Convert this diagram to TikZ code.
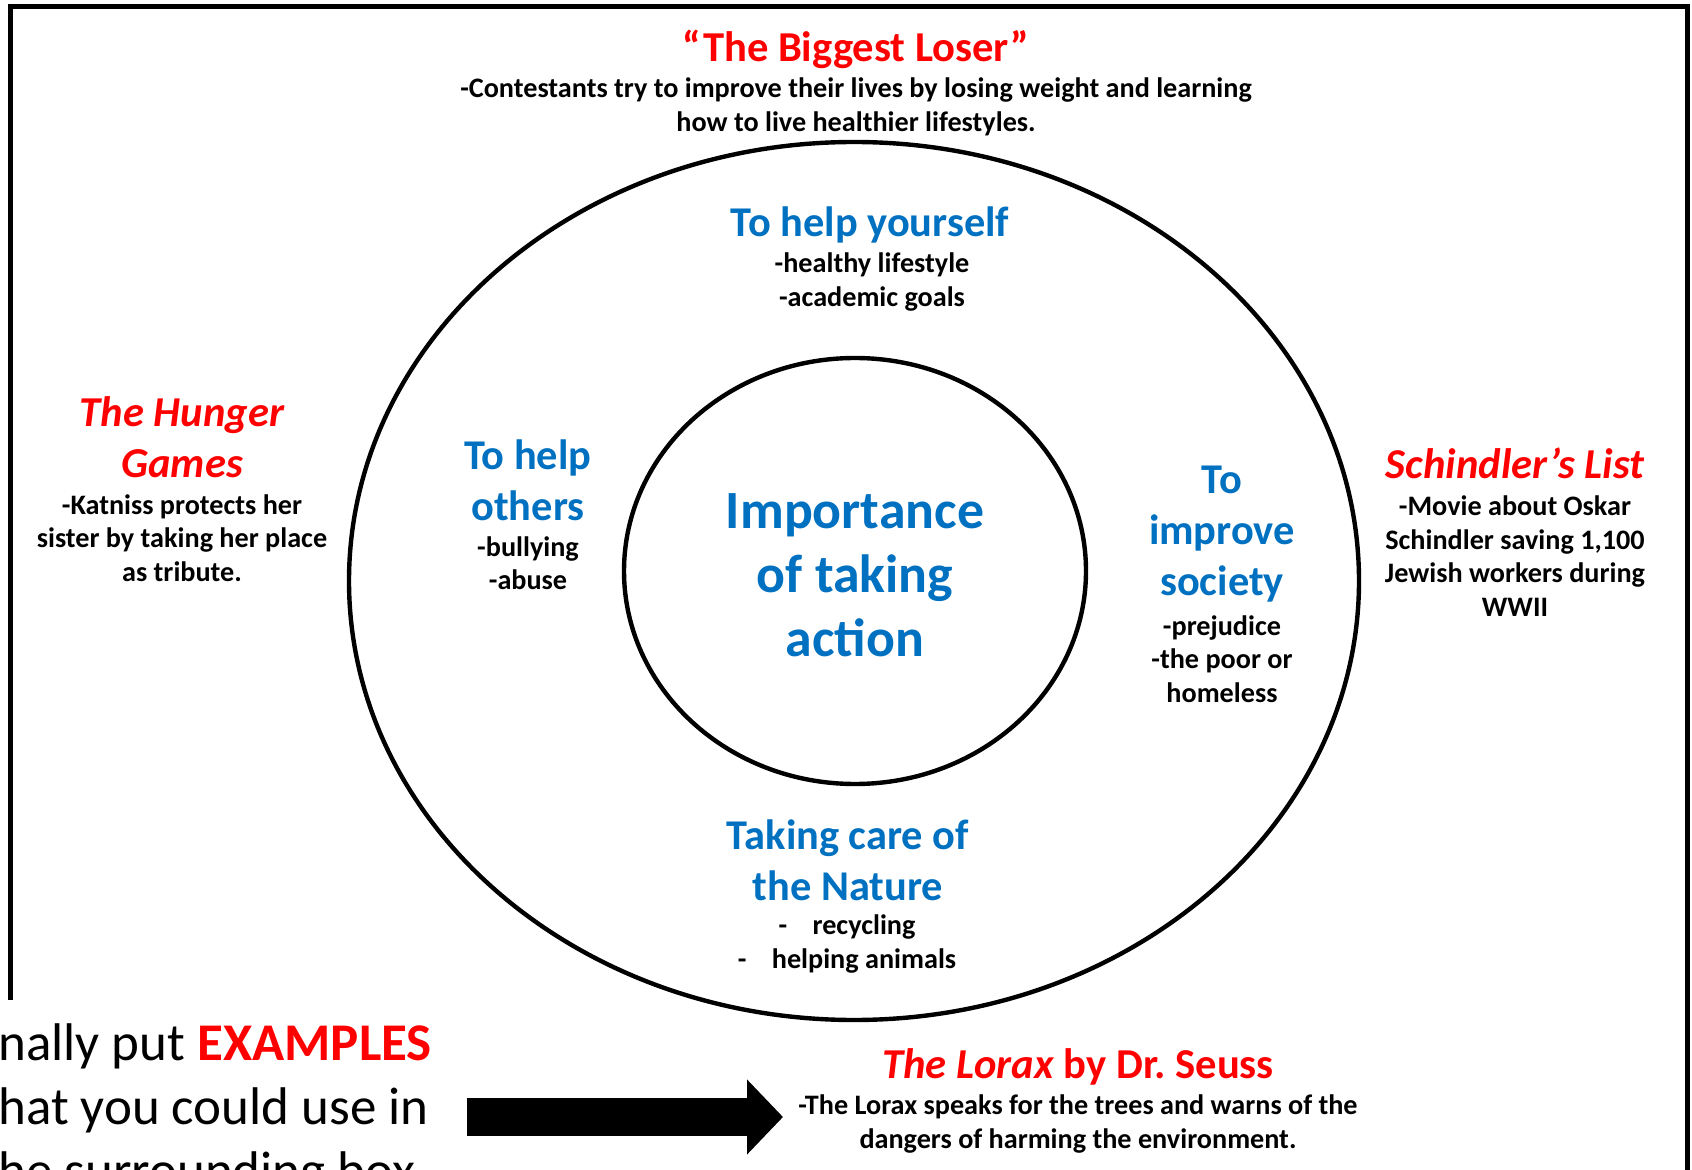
\documentclass[tikz,border=0pt]{standalone}
\usepackage{fontspec}
\setmainfont{Carlito}
\usepackage{tikz}
\usetikzlibrary{arrows.meta}
\definecolor{actblue}{RGB}{0,112,192}
\definecolor{exred}{RGB}{255,0,0}
\newcommand{\ring}[5]{\coordinate (#5) at (#1,#2); \draw[ringline] (#5) ellipse [x radius=#3, y radius=#4];}
\tikzset{
  ringline/.style={line width=2.2pt},
  framing/.style={line width=2.5pt},
  heading/.style={font=\fontsize{21.2}{25.4}\selectfont\bfseries, text=actblue, align=center, inner sep=0pt},
  movie/.style={font=\fontsize{21.3}{25.4}\selectfont\bfseries, text=exred, align=center, inner sep=0pt},
  detail/.style={font=\fontsize{14.1}{16.75}\selectfont\bfseries, align=center, inner sep=0pt},
  hubtext/.style={font=\fontsize{26.9}{31.9}\selectfont\bfseries, text=actblue, align=center, inner sep=0pt},
  fatarrow/.style={line width=19pt, -{Triangle[length=18pt, width=36.5pt]}}
}

\begin{document}
\begin{tikzpicture}[x=0.5pt, y=-0.5pt]
        \useasboundingbox (0,0) rectangle (1692,1170);
        \clip (0,0) rectangle (1692,1170);

        % frame
        \draw[framing] (10,1000) -- (10,7) -- (1687,7) -- (1687,1180);

        % rings
        \ring{854}{581}{505}{439}{outer}
        \ring{855}{571}{231}{213}{inner}

        \node[hubtext] (hub) at (855,575) {Importance\\of taking\\action};

        % inside the outer ring
        \node[heading] (self) at (870,225) {To help yourself};
        \node[detail] (selfx) at (872,282) {-healthy lifestyle\\-academic goals};
        \node[heading] (others) at (528,480) {To help\\others};
        \node[detail] (othersx) at (528,563) {-bullying\\-abuse};
        \node[heading] (society) at (1222,534) {To\\improve\\society};
        \node[detail] (societyx) at (1222,659) {-prejudice\\-the poor or\\homeless};
        \node[heading] (nature) at (848,860) {Taking care of\\the Nature};
        \node[detail] (naturex) at (847,944) {-\hspace{0.9em}recycling\\-\hspace{0.9em}helping animals};

        % examples round the rings
        \node[movie] (loser) at (856,49) {“The Biggest Loser”};
        \node[detail] (loserx) at (856,107) {-Contestants try to improve their lives by losing weight and learning\\how to live healthier lifestyles.};
        \node[movie] (hunger) at (182,437) {\itshape The Hunger\\\itshape Games};
        \node[detail] (hungerx) at (182,538) {-Katniss protects her\\sister by taking her place\\as tribute.};
        \node[movie] (schindler) at (1515,463) {\itshape Schindler’s List};
        \node[detail] (schindlerx) at (1515,556) {-Movie about Oskar\\Schindler saving 1,100\\Jewish workers during\\WWII};
        \node[movie] (lorax) at (1078,1067) {\textit{The Lorax} by Dr.\ Seuss};
        \node[detail] (loraxx) at (1078,1124) {-The Lorax speaks for the trees and warns of the\\dangers of harming the environment.};

        % note
        \node[font=\fontsize{26.5}{32}\selectfont, align=left, inner sep=0pt, anchor=north west] (note) at (-2,1023)
            {nally put \textbf{\color{exred}EXAMPLES}\\hat you could use in\\he surrounding box};
        \coordinate (tail) at (467,1117);
        \coordinate (tip) at (783,1117);
        \draw[fatarrow] (tail) -- (tip);
\end{tikzpicture}
\end{document}
